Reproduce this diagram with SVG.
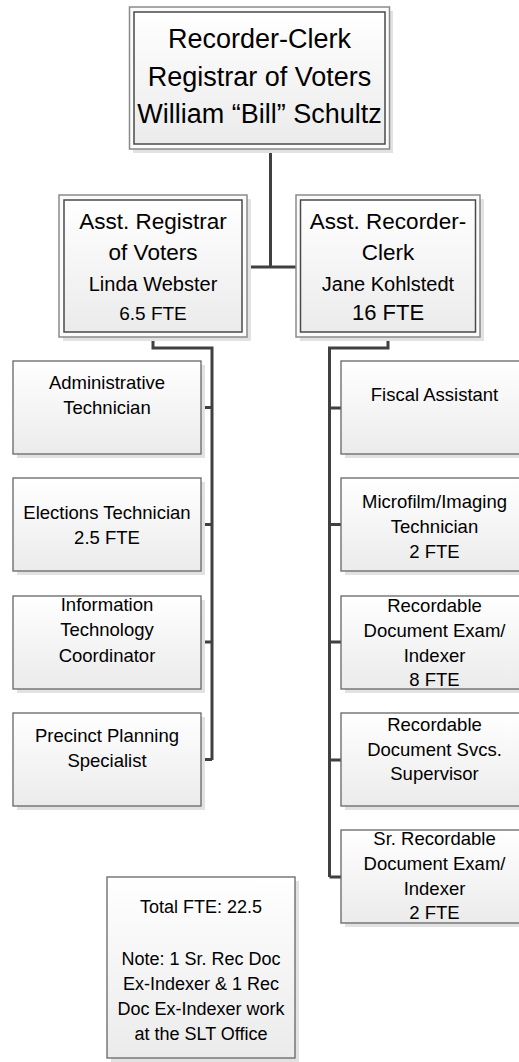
<svg xmlns="http://www.w3.org/2000/svg" width="519" height="1062" viewBox="0 0 519 1062">
<defs>
<linearGradient id="g" x1="0" y1="0" x2="0" y2="1">
<stop offset="0" stop-color="#ffffff"/>
<stop offset="1" stop-color="#ebebeb"/>
</linearGradient>
<style>
.sh{fill:#e2e2e2;}
.outer{fill:#fbfbfb;stroke:#8a8a8a;stroke-width:1.5;}
.inner{fill:url(#g);stroke:#4a4a4a;stroke-width:1.5;}
.box{fill:url(#g);stroke:#666666;stroke-width:1.3;}
.t{font-family:"Liberation Sans",Arial,sans-serif;fill:#000;text-anchor:middle;}
.conn{fill:none;stroke:#404040;stroke-width:3;}
</style>
</defs>
<rect width="519" height="1062" fill="#ffffff"/>

<g id="connectors">
<path class="conn" d="M270.5,149 V267 M247,267 H296"/>
<path class="conn" d="M153,337 V348 H212 V760 M201,407.5 H212 M201,524.5 H212 M201,642 H212 M201,759.5 H212"/>
<path class="conn" d="M388,337 V348 H329.5 V877 M329.5,408 H341 M329.5,524.5 H341 M329.5,642 H341 M329.5,760 H341 M329.5,877 H341"/>
</g>

<g id="recorder-clerk">
<rect class="sh" x="133" y="11" width="260" height="142"/>
<rect class="outer" x="129.5" y="7" width="260" height="142"/>
<rect class="inner" x="134" y="12" width="251" height="132"/>
<text class="t" font-size="27"><tspan x="259.5" y="48">Recorder-Clerk</tspan><tspan x="259.5" y="86">Registrar of Voters</tspan><tspan x="259.5" y="123">William “Bill” Schultz</tspan></text>
</g>

<g id="asst-registrar">
<rect class="sh" x="63" y="199" width="188" height="142"/>
<rect class="outer" x="59" y="195" width="188" height="142"/>
<rect class="inner" x="64" y="200" width="178" height="132"/>
<text class="t"><tspan x="153" y="229" font-size="22.5">Asst. Registrar</tspan><tspan x="153" y="260" font-size="22.5">of Voters</tspan><tspan x="153" y="291" font-size="20">Linda Webster</tspan><tspan x="153" y="320" font-size="19">6.5 FTE</tspan></text>
</g>

<g id="asst-recorder">
<rect class="sh" x="300" y="199" width="184" height="142"/>
<rect class="outer" x="296" y="195" width="184" height="142"/>
<rect class="inner" x="300.5" y="200" width="175" height="132"/>
<text class="t"><tspan x="388" y="229" font-size="22.5">Asst. Recorder-</tspan><tspan x="388" y="260" font-size="22.5">Clerk</tspan><tspan x="388" y="291" font-size="20">Jane Kohlstedt</tspan><tspan x="388" y="320" font-size="22">16 FTE</tspan></text>
</g>

<g id="admin-tech">
<rect class="sh" x="17" y="365" width="188" height="93"/>
<rect class="box" x="13" y="361" width="188" height="93"/>
<text class="t" font-size="18.5"><tspan x="107" y="389">Administrative</tspan><tspan x="107" y="414">Technician</tspan></text>
</g>

<g id="elections-tech">
<rect class="sh" x="17" y="482" width="188" height="93"/>
<rect class="box" x="13" y="478" width="188" height="93"/>
<text class="t" font-size="18.5"><tspan x="107" y="518.5">Elections Technician</tspan><tspan x="107" y="543.5">2.5 FTE</tspan></text>
</g>

<g id="it-coordinator">
<rect class="sh" x="17" y="600" width="188" height="93"/>
<rect class="box" x="13" y="596" width="188" height="93"/>
<text class="t" font-size="18.5"><tspan x="107" y="611">Information</tspan><tspan x="107" y="636">Technology</tspan><tspan x="107" y="661.5">Coordinator</tspan></text>
</g>

<g id="precinct-planning">
<rect class="sh" x="17" y="717" width="188" height="93"/>
<rect class="box" x="13" y="713" width="188" height="93"/>
<text class="t" font-size="18.5"><tspan x="107" y="741.5">Precinct Planning</tspan><tspan x="107" y="766.5">Specialist</tspan></text>
</g>

<g id="fiscal-assistant">
<rect class="sh" x="345" y="365" width="188" height="93"/>
<rect class="box" x="341" y="361" width="188" height="93"/>
<text class="t" font-size="18.5"><tspan x="434.5" y="401">Fiscal Assistant</tspan></text>
</g>

<g id="microfilm-tech">
<rect class="sh" x="345" y="482" width="188" height="93"/>
<rect class="box" x="341" y="478" width="188" height="93"/>
<text class="t" font-size="18.5"><tspan x="434.5" y="508">Microfilm/Imaging</tspan><tspan x="434.5" y="533">Technician</tspan><tspan x="434.5" y="557.5">2 FTE</tspan></text>
</g>

<g id="rec-doc-exam">
<rect class="sh" x="345" y="600" width="188" height="93"/>
<rect class="box" x="341" y="596" width="188" height="93"/>
<text class="t" font-size="18.5"><tspan x="434.5" y="611.5">Recordable</tspan><tspan x="434.5" y="636.5">Document Exam/</tspan><tspan x="434.5" y="661.5">Indexer</tspan><tspan x="434.5" y="686">8 FTE</tspan></text>
</g>

<g id="rec-doc-supervisor">
<rect class="sh" x="345" y="717" width="188" height="93"/>
<rect class="box" x="341" y="713" width="188" height="93"/>
<text class="t" font-size="18.5"><tspan x="434.5" y="730.5">Recordable</tspan><tspan x="434.5" y="755.5">Document Svcs.</tspan><tspan x="434.5" y="780">Supervisor</tspan></text>
</g>

<g id="sr-rec-doc-exam">
<rect class="sh" x="345" y="834" width="188" height="93"/>
<rect class="box" x="341" y="830" width="188" height="93"/>
<text class="t" font-size="18.5"><tspan x="434.5" y="845">Sr. Recordable</tspan><tspan x="434.5" y="870">Document Exam/</tspan><tspan x="434.5" y="895">Indexer</tspan><tspan x="434.5" y="918.5">2 FTE</tspan></text>
</g>

<g id="note">
<rect class="sh" x="111" y="881" width="188" height="183"/>
<rect class="box" x="107" y="877" width="188" height="181"/>
<text class="t" font-size="18"><tspan x="201" y="913">Total FTE: 22.5</tspan><tspan x="201" y="965">Note: 1 Sr. Rec Doc</tspan><tspan x="201" y="990">Ex-Indexer &amp; 1 Rec</tspan><tspan x="201" y="1015">Doc Ex-Indexer work</tspan><tspan x="201" y="1040">at the SLT Office</tspan></text>
</g>
</svg>
